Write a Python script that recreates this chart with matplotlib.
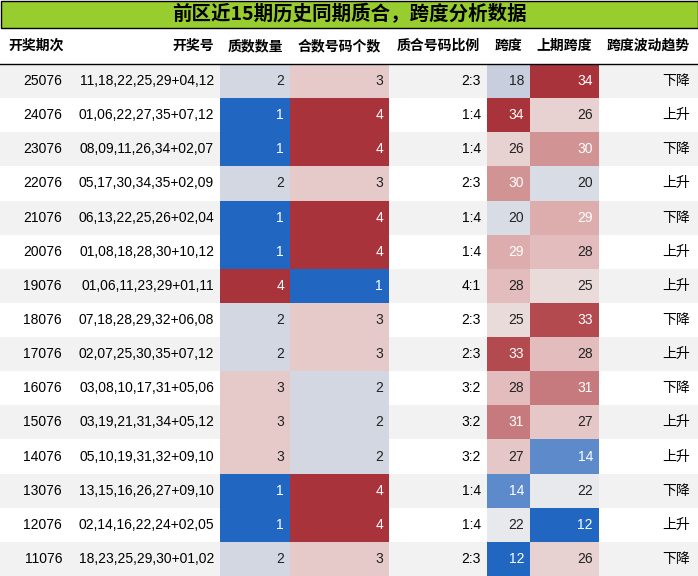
import matplotlib
matplotlib.use("Agg")
import matplotlib.pyplot as plt
from matplotlib.colors import LinearSegmentedColormap, TwoSlopeNorm
from matplotlib.patches import Rectangle

title = "前区近15期历史同期质合，跨度分析数据"
headers = ["开奖期次", "开奖号", "质数数量", "合数号码个数", "质合号码比例", "跨度", "上期跨度", "跨度波动趋势"]
periods = ["25076","24076","23076","22076","21076","20076","19076","18076","17076","16076","15076","14076","13076","12076","11076"]
numbers = ["11,18,22,25,29+04,12","01,06,22,27,35+07,12","08,09,11,26,34+02,07","05,17,30,34,35+02,09",
           "06,13,22,25,26+02,04","01,08,18,28,30+10,12","01,06,11,23,29+01,11","07,18,28,29,32+06,08",
           "02,07,25,30,35+07,12","03,08,10,17,31+05,06","03,19,21,31,34+05,12","05,10,19,31,32+09,10",
           "13,15,16,26,27+09,10","02,14,16,22,24+02,05","18,23,25,29,30+01,02"]
primes = [2,1,1,2,1,1,4,2,2,3,3,3,1,1,2]
composites = [3,4,4,3,4,4,1,3,3,2,2,2,4,4,3]
ratios = ["2:3","1:4","1:4","2:3","1:4","1:4","4:1","2:3","2:3","3:2","3:2","3:2","1:4","1:4","2:3"]
spans = [18,34,26,30,20,29,28,25,33,28,31,27,14,22,12]
prev_spans = [34,26,30,20,29,28,25,33,28,31,27,14,22,12,26]
trends = ["下降","上升","下降","上升","下降","上升","上升","下降","上升","下降","上升","上升","下降","上升","下降"]

W, H = 698, 576
fig = plt.figure(figsize=(W/100, H/100), dpi=100)
ax = fig.add_axes([0, 0, 1, 1])
ax.set_xlim(0, W); ax.set_ylim(H, 0); ax.axis("off")
FONT = ["Liberation Sans", "Noto Sans CJK SC", "DejaVu Sans"]
CJK = ["Noto Sans CJK SC", "DejaVu Sans"]

cmap = LinearSegmentedColormap.from_list("c", ["#2166c0", "#c4cbdc", "#efefef", "#e2b8b8", "#a8333a"])

# title
ax.add_patch(Rectangle((0.5, 0.5), W-1, 27.5, facecolor="#98cd30", edgecolor="black", lw=1))
ax.text(W/2, 14.5, title, ha="center", va="center", fontsize=14, fontweight="bold", family=CJK)

xs = [0, 70, 220, 290, 389, 487, 530, 599, 698]
hy0, hy1 = 28, 64
rh = (H - hy1) / 15
hpos = [(36, "center"), (214, "right"), (255, "center"), (339, "center"), (438, "center"), (508, "center"), (564, "center"), (648, "center")]
for (x, ha), h in zip(hpos, headers):
    ax.text(x, (hy0+hy1)/2, h, ha=ha, va="center", fontsize=10, fontweight="bold", family=CJK)
ax.plot([0, W], [hy1, hy1], color="black", lw=1)

def cell(ci, ri, val, norm, txt):
    y = hy1 + ri*rh
    v = norm(val)
    ax.add_patch(Rectangle((xs[ci], y), xs[ci+1]-xs[ci], rh, facecolor=cmap(v), edgecolor="none"))
    col = "white" if abs(v-0.5) > 0.25 else "#222222"
    ax.text(xs[ci+1]-6, y+rh/2, txt, ha="right", va="center", fontsize=10, color=col, family=FONT)

n1 = TwoSlopeNorm(vcenter=2.5, vmin=1, vmax=4)
n2 = TwoSlopeNorm(vcenter=23, vmin=12, vmax=34)
for i in range(15):
    y = hy1 + i*rh
    bg = "#f2f2f2" if i % 2 == 0 else "white"
    ax.add_patch(Rectangle((0, y), W, rh, facecolor=bg, edgecolor="none"))
    yc = y + rh/2
    ax.text(62, yc, periods[i], ha="right", va="center", fontsize=10, family=FONT)
    ax.text(214, yc, numbers[i], ha="right", va="center", fontsize=10, family=FONT)
    cell(2, i, primes[i], n1, str(primes[i]))
    cell(3, i, 5 - composites[i] if False else composites[i], n1, str(composites[i]))
    ax.text(481, yc, ratios[i], ha="right", va="center", fontsize=10, family=FONT)
    cell(5, i, spans[i], n2, str(spans[i]))
    cell(6, i, prev_spans[i], n2, str(prev_spans[i]))
    ax.text(690, yc, trends[i], ha="right", va="center", fontsize=10, family=CJK)

fig.savefig("out.png", dpi=100)
